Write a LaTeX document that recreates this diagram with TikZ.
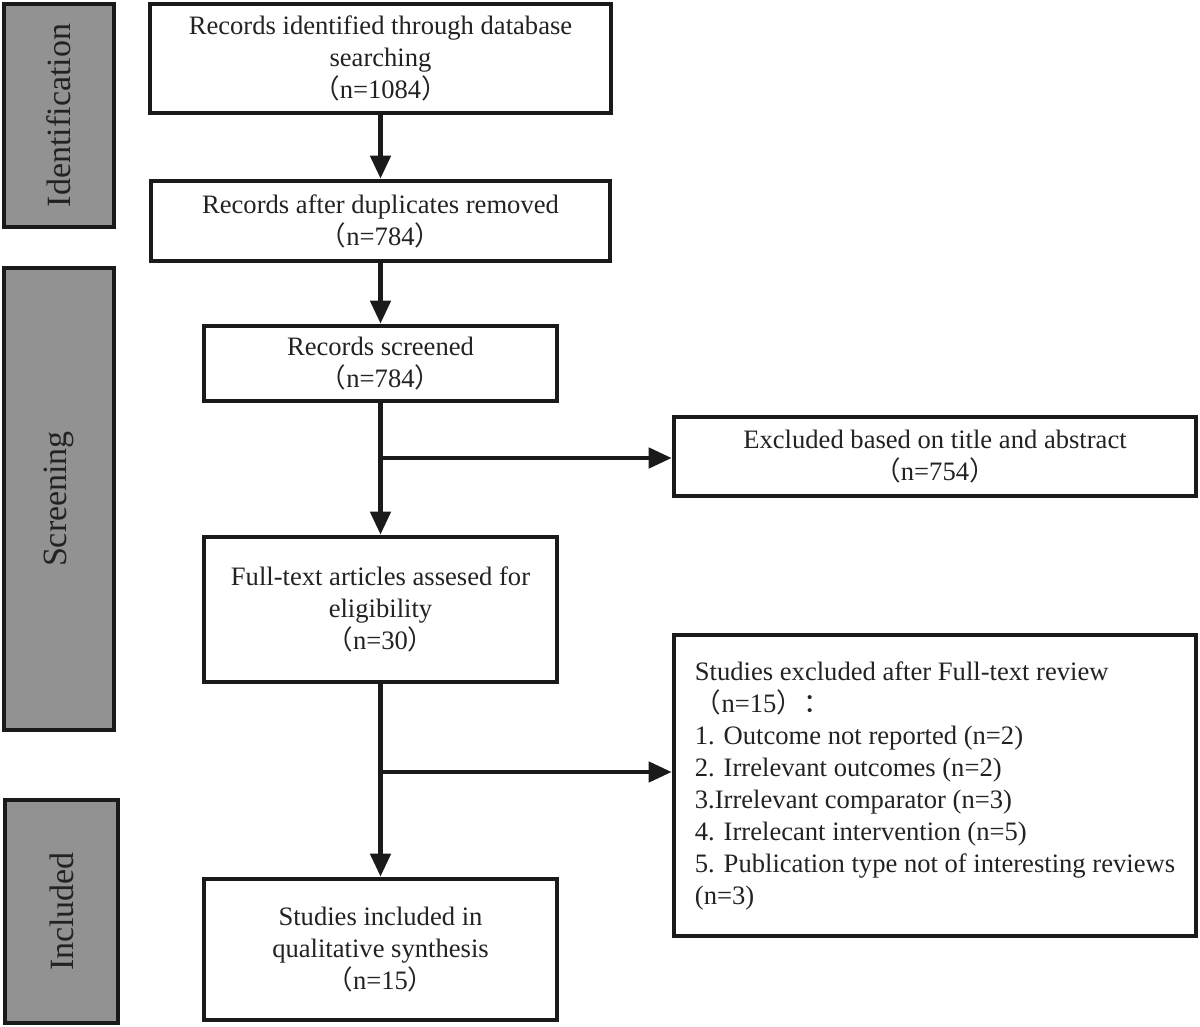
\documentclass[tikz,border=0pt]{standalone}
\usepackage{fontspec}
\setmainfont{Liberation Serif}
\newfontfamily\cjk{Noto Sans CJK SC}
\usetikzlibrary{arrows.meta}
\definecolor{prismaline}{RGB}{26,26,26}
\definecolor{prismatext}{RGB}{34,34,34}
\definecolor{prismagray}{RGB}{146,146,146}
\newcommand{\lpar}{{\cjk （}}
\newcommand{\rpar}{{\cjk ）}}

\begin{document}
\begin{tikzpicture}[x=0.5pt,y=-0.5pt,
    box/.style={draw=prismaline, line width=2.3pt, text=prismatext, align=center,
        inner sep=0pt, font=\fontsize{13.3}{16}\selectfont},
    phase/.style={draw=prismaline, line width=2.3pt, fill=prismagray, text=prismatext,
        inner sep=0pt, rotate=90, font=\fontsize{17}{20}\selectfont},
    flow/.style={draw=prismaline, line width=2.3pt, -{Triangle[length=11.5pt,width=10pt]}}]
    \useasboundingbox (0,0) rectangle (1200,1027);

    % phase bars
    \node[phase, minimum width=111.5pt, minimum height=55pt] (idphase) at (59,115.5) {Identification};
    \node[phase, minimum width=231pt, minimum height=55pt] (scphase) at (59,499) {Screening};
    \node[phase, minimum width=111.5pt, minimum height=56.5pt] (inphase) at (61.5,911.5) {Included};

    % main column
    \node[box, minimum width=230.5pt, minimum height=54.5pt] (ident) at (380.5,58.5)
        {Records identified through database\\searching\\\lpar n=1084\rpar};
    \node[box, minimum width=229.5pt, minimum height=40pt] (dedup) at (380.5,221)
        {Records after duplicates removed\\\lpar n=784\rpar};
    \node[box, minimum width=176.5pt, minimum height=37.5pt] (screened) at (380.5,363.5)
        {Records screened\\\lpar n=784\rpar};
    \node[box, minimum width=176.5pt, minimum height=72.5pt] (fulltext) at (380.5,609.5)
        {Full-text articles assesed for\\eligibility\\\lpar n=30\rpar};
    \node[box, minimum width=176.5pt, minimum height=70.5pt] (included) at (380.5,949.5)
        {Studies included in\\qualitative synthesis\\\lpar n=15\rpar};

    % exclusions
    \node[box, minimum width=261pt, minimum height=39.5pt] (excltitle) at (935,456.5)
        {Excluded based on title and abstract\\\lpar n=754\rpar};
    \node[box, align=left, minimum width=261pt, minimum height=150.5pt] (exclfull) at (935,785.5)
        {Studies excluded after Full-text review\\
         \lpar n=15\rpar{\cjk ：}\\
         1. Outcome not reported (n=2)\\
         2. Irrelevant outcomes (n=2)\\
         3.Irrelevant comparator (n=3)\\
         4. Irrelecant intervention (n=5)\\
         5. Publication type not of interesting reviews\\
         (n=3)};

    % connectors
    \coordinate (split1) at (screened.south |- 0,458);
    \coordinate (split2) at (fulltext.south |- 0,772);
    \draw[flow] (ident) -- (dedup);
    \draw[flow] (dedup) -- (screened);
    \draw[flow] (screened) -- (fulltext);
    \draw[flow] (split1) -- (split1 -| excltitle.west);
    \draw[flow] (fulltext) -- (included);
    \draw[flow] (split2) -- (split2 -| exclfull.west);
\end{tikzpicture}
\end{document}
